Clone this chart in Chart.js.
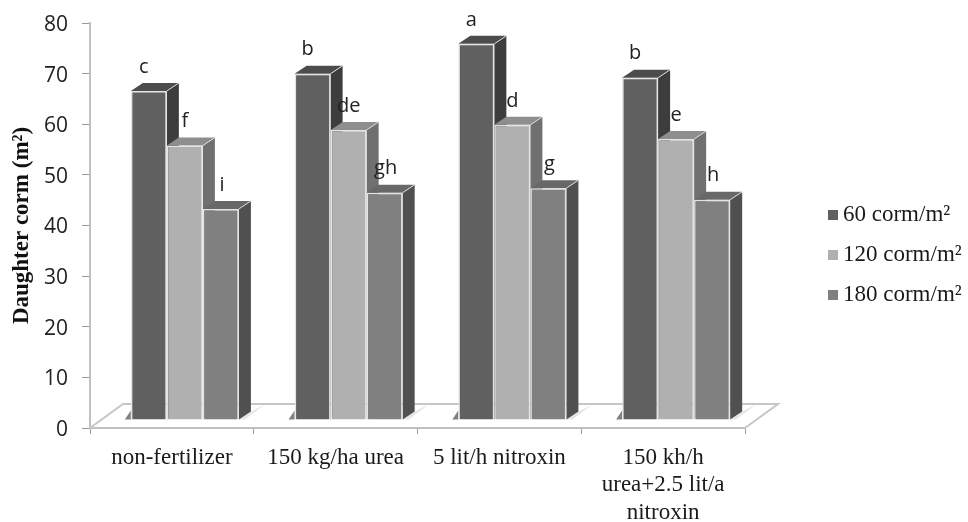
<!DOCTYPE html>
<html>
<head>
<meta charset="utf-8">
<title>Daughter corm</title>
<script src="https://cdn.jsdelivr.net/npm/chart.js@4"></script>
<style>
  html, body { margin: 0; padding: 0; background: #fff; }
  #wrap { width: 968px; height: 522px; }
</style>
</head>
<body>
<div id="wrap"><canvas id="daughter_corm"></canvas></div>
<script>
var categories = ['non-fertilizer', '150 kg/ha urea', '5 lit/h nitroxin', ['150 kh/h', 'urea+2.5 lit/a', 'nitroxin']];
var seriesNames = ['60 corm/m\u00b2', '120 corm/m\u00b2', '180 corm/m\u00b2'];
var corm60 = [65.0, 68.4, 74.3, 67.6];
var corm120 = [54.2, 57.3, 58.3, 55.5];
var corm180 = [41.7, 44.9, 45.8, 43.5];
var letters60 = ['c', 'b', 'a', 'b'];
var letters120 = ['f', 'de', 'd', 'e'];
var letters180 = ['i', 'gh', 'g', 'h'];

var frontColors = ['#606060', '#b0b0b0', '#808080'];
var sideColors = ['#3d3d3d', '#707070', '#505050'];
var topColors = ['#4c4c4c', '#8e8e8e', '#686868'];
var letters = [letters60, letters120, letters180];
var letterNudge = [-5, 0, 1];
var serif = '"Liberation Serif", serif';
var sans = '"Open Sans", sans-serif';

// 3d look: front faces are moved off the axis, depth faces are added
var depthX = 12, depthY = 8, shiftX = 13, shiftY = 8;

function face(ctx, pts, color) {
  ctx.beginPath();
  ctx.moveTo(pts[0][0], pts[0][1]);
  for (var i = 1; i < pts.length; i++) ctx.lineTo(pts[i][0], pts[i][1]);
  ctx.closePath();
  ctx.fillStyle = color;
  ctx.fill();
}

var bars3d = {
  id: 'bars3d',
  beforeDatasetsDraw: function (chart) {
    var ctx = chart.ctx, a = chart.chartArea, y0 = chart.scales.y.getPixelForValue(0);
    ctx.save();
    // floor
    ctx.beginPath();
    ctx.moveTo(a.left, y0);
    ctx.lineTo(a.left + 33, y0 - 24);
    ctx.lineTo(a.right + 33, y0 - 24);
    ctx.lineTo(a.right, y0);
    ctx.strokeStyle = '#c6c6c6';
    ctx.lineWidth = 2;
    ctx.stroke();
    // depth faces first, the library then paints the fronts over them
    ctx.translate(shiftX, -shiftY);
    chart.data.datasets.forEach(function (ds, i) {
      chart.getDatasetMeta(i).data.forEach(function (bar) {
        var l = bar.x - bar.width / 2, r = bar.x + bar.width / 2;
        if (i === 0) face(ctx, [[l - 6, bar.base], [l, bar.base - 9], [l, bar.base]], '#808080');
        if (i === 2) face(ctx, [[r, bar.base], [r + depthX, bar.base - depthY], [r + 26, bar.base - 15], [r + 6, bar.base]], '#e6e6e6');
        face(ctx, [[r, bar.y], [r + depthX, bar.y - depthY], [r + depthX, bar.base - depthY], [r, bar.base]], sideColors[i]);
        face(ctx, [[l, bar.y], [l + depthX, bar.y - depthY], [r + depthX, bar.y - depthY], [r, bar.y]], topColors[i]);
        ctx.beginPath();
        ctx.moveTo(r, bar.y);
        ctx.lineTo(r + depthX, bar.y - depthY);
        ctx.strokeStyle = '#d8d8d8';
        ctx.lineWidth = 1;
        ctx.stroke();
      });
    });
  },
  afterDatasetsDraw: function (chart) {
    chart.ctx.restore();
  },
  afterDraw: function (chart) {
    var ctx = chart.ctx;
    ctx.save();
    // letters over the bars
    ctx.font = '20px ' + sans;
    ctx.fillStyle = '#222';
    ctx.textAlign = 'center';
    ctx.textBaseline = 'middle';
    letters.forEach(function (row, i) {
      chart.getDatasetMeta(i).data.forEach(function (bar, j) {
        ctx.fillText(row[j], bar.x + shiftX + letterNudge[i], bar.y - shiftY - 24);
      });
    });
    // legend
    ctx.font = '23px ' + serif;
    ctx.textAlign = 'left';
    seriesNames.forEach(function (name, i) {
      var y = 215 + i * 40;
      ctx.fillStyle = frontColors[i];
      ctx.fillRect(828, y - 5, 10, 10);
      ctx.fillStyle = '#1a1a1a';
      ctx.fillText(name, 843, y);
    });
    ctx.restore();
  }
};

var corm_chart = new Chart(document.getElementById('daughter_corm'), {
  type: 'bar',
  data: {
    labels: categories,
    datasets: [
      { label: seriesNames[0], data: corm60, backgroundColor: frontColors[0] },
      { label: seriesNames[1], data: corm120, backgroundColor: frontColors[1] },
      { label: seriesNames[2], data: corm180, backgroundColor: frontColors[2] }
    ]
  },
  options: {
    responsive: true,
    maintainAspectRatio: false,
    animation: false,
    layout: { padding: { top: 23, right: 223, bottom: 0, left: 0 } },
    datasets: {
      bar: { categoryPercentage: 0.66, barPercentage: 1, borderWidth: 1.5, borderColor: '#e4e4e4' }
    },
    scales: {
      x: {
        grid: { drawOnChartArea: false, color: '#999', tickLength: 6 },
        border: { color: '#c0c0c0', width: 2 },
        ticks: { color: '#1a1a1a', font: { family: serif, size: 23, lineHeight: 1.2 }, padding: 10, maxRotation: 0, autoSkip: false },
        afterFit: function (scale) { scale.height = 94; }
      },
      y: {
        min: 0,
        max: 80,
        grid: { drawOnChartArea: false, color: '#999', tickLength: 8 },
        border: { color: '#c0c0c0', width: 2 },
        ticks: { stepSize: 10, color: '#222', font: { family: sans, size: 21 }, padding: 14, labelOffset: 2 },
        title: { display: true, text: 'Daughter corm (m\u00b2)', color: '#111', font: { family: serif, size: 23, weight: 'bold' }, padding: { top: 8, bottom: 0 } },
        afterFit: function (scale) {
          scale.width = 90;
          scale.paddingTop = 0;
          scale.paddingBottom = 0;
        }
      }
    },
    plugins: {
      legend: { display: false },
      tooltip: { enabled: false }
    }
  },
  plugins: [bars3d]
});
</script>
</body>
</html>
